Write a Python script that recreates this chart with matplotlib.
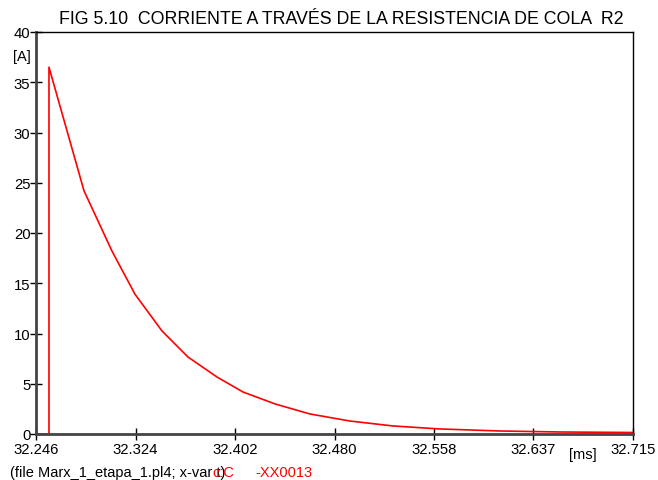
import matplotlib
matplotlib.use("Agg")
import matplotlib.pyplot as plt
import numpy as np

plt.rcParams["font.family"] = ["Liberation Sans", "DejaVu Sans"]

t_ms = [32.246, 32.2562, 32.2562, 32.2837, 32.3057, 32.3238, 32.3450, 32.3654,
        32.3882, 32.4086, 32.4338, 32.4613, 32.4927, 32.5265, 32.5634,
        32.6106, 32.6577, 32.715]
i_amp = [0.0, 0.0, 36.5, 24.2, 18.2, 13.9, 10.25, 7.66,
         5.67, 4.18, 2.99, 1.99, 1.29, 0.80, 0.50,
         0.30, 0.20, 0.15]

x_ticks = np.linspace(32.246, 32.715, 7)
x_labels = ["32.246", "32.324", "32.402", "32.480", "32.558", "32.637", "32.715"]
y_ticks = [0, 5, 10, 15, 20, 25, 30, 35, 40]

fig = plt.figure(figsize=(6.58, 4.81), dpi=100)
ax = fig.add_axes([36 / 658, 46 / 481, 597 / 658, 402 / 481])

ax.plot(t_ms, i_amp, color="#ff0000", lw=1.2)

ax.set_xlim(32.246, 32.715)
ax.set_ylim(0, 40)
ax.set_xticks(x_ticks)
ax.set_xticklabels(x_labels)
ax.set_yticks(y_ticks)
ax.tick_params(direction="inout", length=8, width=1, labelsize=10.7, pad=2,
               colors="black")
ax.tick_params(axis="y", pad=0)

for side in ["left", "bottom"]:
    ax.spines[side].set_linewidth(2)
    ax.spines[side].set_color("#444444")
for side in ["top", "right"]:
    ax.spines[side].set_linewidth(1)
    ax.spines[side].set_color("black")

fig.text(341 / 658, 1 - 20 / 481, "FIG 5.10  CORRIENTE A TRAVÉS DE LA RESISTENCIA DE COLA  R2",
         ha="center", va="center", fontsize=12.8)
fig.text(13 / 658, 1 - 57 / 481, "[A]", ha="left", va="center", fontsize=10.5)
fig.text(569 / 658, 1 - 455 / 481, "[ms]", ha="left", va="center", fontsize=10.5)
fig.text(10 / 658, 1 - 477.5 / 481, "(file Marx_1_etapa_1.pl4; x-var t)",
         ha="left", va="baseline", fontsize=10.5)
fig.text(212 / 658, 1 - 477.5 / 481, "c:C", color="#ff0000",
         ha="left", va="baseline", fontsize=10.5)
fig.text(255 / 658, 1 - 477.5 / 481, "-XX0013", color="#ff0000",
         ha="left", va="baseline", fontsize=10.5)

fig.savefig("out.png", dpi=100)
